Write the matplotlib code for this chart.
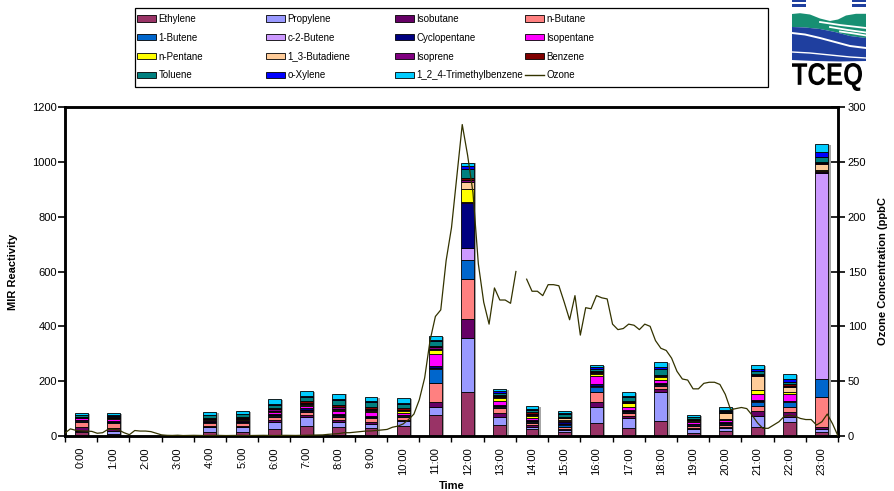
import numpy as np
import matplotlib
matplotlib.use('Agg')
import matplotlib.pyplot as plt
from matplotlib.patches import Rectangle, Polygon, PathPatch, Patch
from matplotlib.lines import Line2D
from matplotlib.textpath import TextPath
from matplotlib.font_manager import FontProperties
from matplotlib.transforms import Affine2D

plt.rcParams['font.family'] = ['Liberation Sans', 'DejaVu Sans']

# ---------------- data ----------------
hours = ["0:00", "1:00", "2:00", "3:00", "4:00", "5:00", "6:00", "7:00", "8:00", "9:00",
         "10:00", "11:00", "12:00", "13:00", "14:00", "15:00", "16:00", "17:00", "18:00",
         "19:00", "20:00", "21:00", "22:00", "23:00"]

species = ["Ethylene", "Propylene", "Isobutane", "n-Butane", "1-Butene", "c-2-Butene",
           "Cyclopentane", "Isopentane", "n-Pentane", "1_3-Butadiene", "Isoprene",
           "Benzene", "Toluene", "o-Xylene", "1_2_4-Trimethylbenzene"]

colors = ["#993366", "#9999FF", "#660066", "#FF8080", "#0066CC", "#CC99FF",
          "#000080", "#FF00FF", "#FFFF00", "#FFCC99", "#800080",
          "#800000", "#008080", "#0000FF", "#00CCFF"]

ethylene     = [13, 7, 0, 0, 13, 16, 26, 36, 32, 28, 36, 77, 162, 40, 26, 14, 46, 28, 55, 12, 18, 34, 50, 16]
propylene    = [6, 12, 0, 0, 19, 16, 26, 33, 20, 16, 19, 30, 194, 30, 8, 8, 61, 36, 107, 14, 10, 40, 20, 10]
isobutane    = [13, 9, 0, 0, 6, 4, 6, 9, 8, 8, 3, 18, 71, 13, 6, 5, 16, 10, 8, 4, 5, 18, 19, 8]
n_butane     = [20, 21, 0, 0, 8, 10, 12, 8, 8, 12, 12, 67, 144, 20, 8, 6, 39, 11, 14, 5, 8, 19, 18, 109]
butene_1     = [3, 2, 0, 0, 3, 3, 4, 5, 5, 5, 3, 51, 71, 3, 4, 8, 18, 3, 3, 4, 4, 14, 16, 64]
c2_butene    = [2, 1, 0, 0, 2, 2, 2, 3, 3, 2, 2, 4, 42, 3, 3, 4, 4, 3, 3, 3, 3, 3, 3, 751]
cyclopentane = [3, 3, 0, 0, 3, 4, 3, 7, 5, 3, 2, 8, 165, 3, 4, 5, 6, 4, 4, 3, 4, 3, 3, 4]
isopentane   = [4, 6, 0, 0, 3, 3, 7, 7, 10, 12, 6, 44, 3, 16, 6, 5, 30, 12, 12, 5, 5, 22, 24, 6]
n_pentane    = [1, 1, 0, 0, 2, 3, 4, 6, 4, 5, 8, 16, 48, 10, 8, 4, 6, 12, 9, 3, 4, 15, 6, 3]
butadiene    = [1, 2, 0, 0, 2, 2, 3, 4, 4, 4, 3, 3, 27, 4, 5, 5, 3, 3, 3, 5, 22, 51, 21, 20]
isoprene     = [2, 2, 0, 0, 2, 3, 4, 4, 5, 4, 2, 5, 6, 3, 3, 3, 3, 3, 3, 2, 2, 4, 4, 4]
benzene      = [3, 3, 0, 0, 4, 4, 6, 5, 8, 8, 5, 6, 7, 4, 5, 4, 4, 4, 3, 3, 3, 4, 4, 4]
toluene      = [4, 5, 0, 0, 8, 9, 10, 14, 18, 18, 16, 18, 35, 8, 10, 8, 10, 12, 22, 6, 5, 11, 10, 20]
o_xylene     = [2, 2, 0, 0, 3, 3, 4, 4, 4, 4, 4, 4, 8, 6, 4, 4, 5, 4, 4, 2, 3, 5, 9, 18]
tmb          = [6, 7, 0, 0, 9, 10, 18, 20, 21, 12, 16, 14, 14, 8, 8, 7, 8, 16, 19, 5, 8, 16, 19, 28]

series = [ethylene, propylene, isobutane, n_butane, butene_1, c2_butene, cyclopentane,
          isopentane, n_pentane, butadiene, isoprene, benzene, toluene, o_xylene, tmb]

# ozone (ppbC), 10-minute readings spanning the whole day (145 readings)
ozone = [2.7, 6.5, 5.2, 4.7, 4.4, 4.2, 2.5, 3.0, 6.0, 6.0,
         5.5, 3.0, 1.2, 5.0, 4.5, 4.5, 4.0, 2.5, 1.0, 0.6,
         0.5, 0.7, 0.4, 0.5, 0.6, 0.5, 0.4, 0.5, 0.6, 0.5,
         0.4, 0.5, 0.5, 0.6, 0.4, 0.5, 0.5, 0.6, 0.5, 0.4,
         0.5, 0.6, 0.5, 0.5, 0.6, 0.7, 0.8, 0.9, 1.0, 1.5,
         1.8, 2.2, 3.0, 3.0, 3.5, 4.0, 4.5, 4.6, 5.0, 5.5,
         6.0, 8.0, 9.0, 11.0, 15.0, 20.0, 33.0, 53.0, 87.0, 109.0,
         115.0, 160.0, 190.0, 237.0, 284.0, 256.0, 222.0, 157.0, 122.0, 102.0,
         135.0, 124.0, 124.0, 121.0, 150.0, np.nan, 143.0, 132.0, 132.0, 128.0,
         138.0, 138.0, 137.0, 122.0, 106.0, 128.0, 92.0, 117.0, 116.0, 128.0,
         126.0, 125.0, 102.0, 97.0, 98.0, 102.0, 101.0, 97.0, 102.0, 100.0,
         87.0, 80.0, 78.0, 71.0, 59.0, 52.0, 51.0, 43.0, 43.0, 48.0,
         49.0, 49.0, 47.0, 38.0, 24.0, 25.0, 26.0, 25.0, 19.0, 12.0,
         7.0, 7.0, 10.0, 13.0, 18.0, 19.0, 18.0, 16.0, 15.0, 15.0,
         10.0, 13.0, 20.0, 11.0, 0.0]

# ---------------- figure ----------------
fig = plt.figure(figsize=(8.95, 4.91), dpi=100)
W, H = 895.0, 491.0
ax = fig.add_axes([65 / W, 1 - 436 / H, 773 / W, 329 / H])
ax2 = ax.twinx()

x = np.arange(len(hours))
bw = 0.40
totals = np.sum(np.array(series), axis=0)

# shadow
ax.bar(x + 0.07, np.maximum(totals - 3, 0) * (totals > 0), bw, color='#a6a6a6',
       edgecolor='none', zorder=1)
bottom = np.zeros(len(hours))
for name, vals, col in zip(species, series, colors):
    v = np.array(vals, dtype=float)
    ax.bar(x, v, bw, bottom=bottom, color=col, edgecolor='black', linewidth=0.6,
           label=name, zorder=2)
    bottom += v

t = np.linspace(-0.5, len(hours) - 0.5, len(ozone))
ax2.plot(t, ozone, color='#333300', linewidth=0.9, zorder=3)

ax.set_xlim(-0.5, len(hours) - 0.5)
ax.set_ylim(0, 1200)
ax2.set_ylim(0, 300)
ax.set_yticks(np.arange(0, 1201, 200))
ax2.set_yticks(np.arange(0, 301, 50))

fs = 8
ax.set_xticks(x)
ax.set_xticklabels(hours, rotation=90, fontsize=fs)
ax.set_xticks(np.arange(-0.5, len(hours), 1), minor=True)
ax.tick_params(axis='x', which='major', length=0, pad=8)
ax.tick_params(axis='x', which='minor', length=4, width=1.0, direction='out')
ax.tick_params(axis='y', which='major', length=5, width=1.2, direction='out', labelsize=fs, pad=1)
ax2.tick_params(axis='y', which='major', length=10, width=1.2, direction='inout', labelsize=fs, pad=2)

for a in (ax, ax2):
    for s in a.spines.values():
        s.set_linewidth(1.8)
        s.set_color('black')

ax.set_ylabel('MIR Reactivity', fontsize=fs, fontweight='bold')
ax.yaxis.set_label_coords(-0.061, 0.5)
ax2.set_ylabel('Ozone Concentration (ppbC', fontsize=fs, fontweight='bold', rotation=90)
ax2.yaxis.set_label_coords(1.052, 0.5)
ax.set_xlabel('Time', fontsize=fs, fontweight='bold')
ax.xaxis.set_label_coords(0.5, -0.138)

# ---------------- legend (4 columns, Excel row-wise order) ----------------
handles = [Patch(facecolor=c, edgecolor='black', linewidth=0.6) for c in colors]
handles.append(Line2D([], [], color='#333300', linewidth=1.0))
labels = species + ['Ozone']
col_x = [137, 266, 395, 525]
for c in range(4):
    idx = [r * 4 + c for r in range(4)]
    leg = fig.legend([handles[i] for i in idx], [labels[i] for i in idx],
                     loc='upper left', bbox_to_anchor=(col_x[c] / W, 1 - 14 / H),
                     frameon=False, fontsize=7.0, handlelength=2.0, handleheight=0.6,
                     handletextpad=0.2, labelspacing=0.9, borderpad=0, borderaxespad=0)
fig.patches.append(Rectangle((135 / W, 1 - 87 / H), (768 - 135) / W, (87 - 8) / H,
                             transform=fig.transFigure, fill=False, edgecolor='black',
                             linewidth=0.9))

# ---------------- logo ----------------
lg = fig.add_axes([790 / W, 1 - 92 / H, 78 / W, 92 / H])
lg.set_xlim(0, 78)
lg.set_ylim(92, 0)
lg.axis('off')
blue = '#1f3f9f'
green = '#178f72'
for (x0, y0) in [(2, 0), (2, 4.2), (62, 0), (62, 4.2)]:
    lg.add_patch(Rectangle((x0, y0), 14, 2.4, color=blue, lw=0))
lg.add_patch(Polygon([(2, 14), (10, 13.2), (20, 14.5), (30, 18.5), (40, 21), (48, 19.5),
                      (56, 15.5), (66, 13.8), (76, 13.8), (76, 38), (60, 36), (45, 32),
                      (30, 29), (15, 27.5), (2, 27)], closed=True, color=green, lw=0))
lg.add_patch(Polygon([(2, 27), (15, 27.5), (30, 29), (45, 32), (60, 36), (76, 38),
                      (76, 61), (50, 61.5), (25, 61), (2, 60)], closed=True, color=blue, lw=0))
for (xs, ys) in [([30, 50, 76], [22, 25, 28]), ([40, 58, 76], [27, 30, 32.5]),
                 ([50, 64, 76], [31.5, 33.5, 35.5])]:
    lg.plot(xs, ys, color='white', lw=1.3)
lg.plot([2, 15, 30, 45, 60, 76], [33, 34.5, 38, 42, 46, 48], color='white', lw=1.4)
lg.plot([2, 20, 40, 60, 76], [52, 53, 55, 57, 58], color='white', lw=1.0)
tp = TextPath((0, 0), 'TCEQ', size=10, prop=FontProperties(family='Liberation Sans', weight='bold'))
ext = tp.get_extents()
sx = 70 / ext.width
sy = 28 / ext.height
tr = Affine2D().translate(-ext.x0, -ext.y1).scale(sx, -sy).translate(2, 63)
lg.add_patch(PathPatch(tr.transform_path(tp), color='black', lw=0))

fig.savefig('out.png', dpi=100)
